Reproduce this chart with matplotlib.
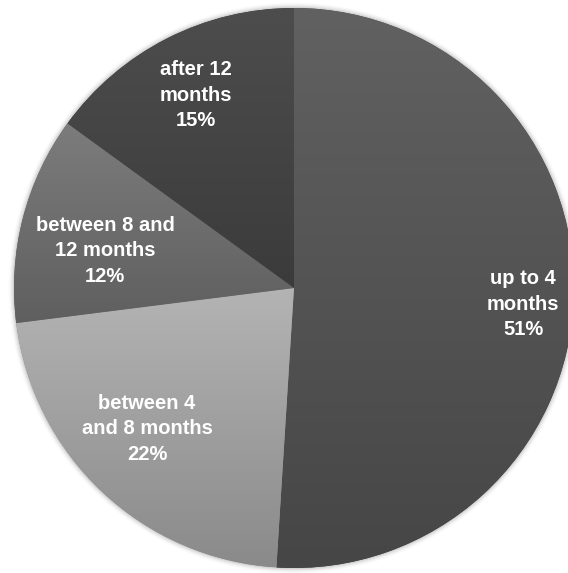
import numpy as np
import matplotlib
matplotlib.use("Agg")
import matplotlib.pyplot as plt
from matplotlib.colors import LinearSegmentedColormap

# slice data, clockwise from 12 o'clock
labels = ["up to 4\nmonths", "between 4\nand 8 months", "between 8 and\n12 months", "after 12\nmonths"]
shares = [51, 22, 12, 15]
# gradient per slice: colour at top, colour at bottom
top_colors = ["#616161", "#b4b4b4", "#7c7c7c", "#4d4d4d"]
bottom_colors = ["#464646", "#8a8a8a", "#5f5f5f", "#3b3b3b"]

plt.rcParams["font.family"] = ["Liberation Sans", "DejaVu Sans"]

fig = plt.figure(figsize=(5.68, 5.73), dpi=100)
ax = fig.add_axes([0, 0, 1, 1])

# soft shadow round the pie
for i, a in enumerate(np.linspace(0.06, 0.01, 5)):
    ax.add_patch(plt.Circle((0, 0), 1.0 + 0.004 * (i + 1), color="black",
                            alpha=a, lw=0, zorder=0))

wedges, texts = ax.pie(shares, startangle=90, counterclock=False,
                       colors=bottom_colors, labels=None, radius=1.0)

# vertical gradient fill clipped to every wedge
for w, c0, c1 in zip(wedges, top_colors, bottom_colors):
    ext = w.get_path().get_extents()
    cmap = LinearSegmentedColormap.from_list("g", [c1, c0])
    grad = np.linspace(0, 1, 256).reshape(-1, 1)
    im = ax.imshow(grad, cmap=cmap, origin="lower", aspect="auto",
                   extent=[ext.x0, ext.x1, ext.y0, ext.y1], zorder=2,
                   interpolation="bilinear")
    im.set_clip_path(w)

# labels: name and percentage (best-fit placement, like the original)
angle = 90.0
label_r = [0.82, 0.727, 0.688, 0.773]
label_shift = [-2.2, -3.0, 3.3, 0.0]
for lab, s, r, sh in zip(labels, shares, label_r, label_shift):
    mid = np.deg2rad(angle - s / 100 * 360 / 2 + sh)
    angle -= s / 100 * 360
    ax.text(r * np.cos(mid), r * np.sin(mid), f"{lab}\n{s}%", color="white",
            ha="center", va="center", fontsize=14.5, fontweight="bold",
            linespacing=1.45, zorder=5)

scale = 280.0
ax.set_xlim(-294 / scale, (568 - 294) / scale)
ax.set_ylim(-(573 - 288) / scale, 288 / scale)
ax.set_aspect("auto")
ax.axis("off")

fig.savefig("out.png", dpi=100, facecolor="white")
